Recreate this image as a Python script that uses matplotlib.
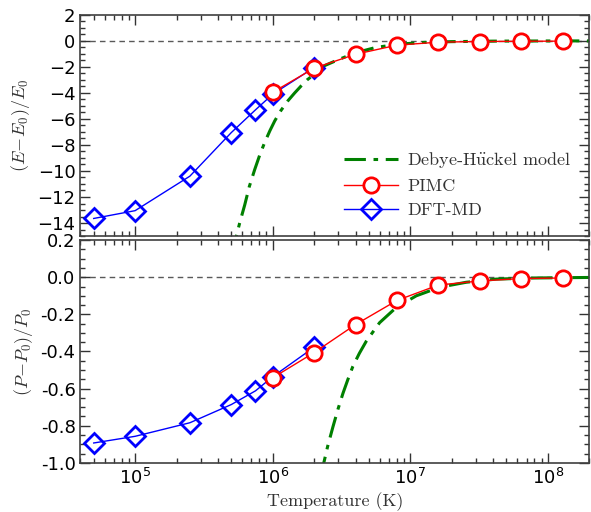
import numpy as np
import matplotlib
matplotlib.use("Agg")
import matplotlib.pyplot as plt
from matplotlib.ticker import MultipleLocator, LogLocator, NullFormatter

# ---- data ----
T_dft = [5e4, 1e5, 2.5e5, 5e5, 7.5e5, 1e6, 2e6]
E_dft = [-13.65, -13.05, -10.4, -7.05, -5.3, -4.1, -2.05]
P_dft = [-0.893, -0.857, -0.784, -0.686, -0.612, -0.536, -0.377]

T_pimc = [1e6, 2e6, 4e6, 8e6, 1.6e7, 3.2e7, 6.4e7, 1.28e8]
E_pimc = [-3.95, -2.1, -1.03, -0.33, -0.1, -0.05, -0.03, -0.02]
P_pimc = [-0.542, -0.406, -0.255, -0.125, -0.042, -0.02, -0.007, -0.004]

logT_dhE = [5.70, 5.736, 5.76, 5.797, 5.83, 5.869, 5.905, 5.942, 5.98, 6.015, 6.06,
            6.111, 6.16, 6.208, 6.25, 6.293, 6.378, 6.487, 6.607, 6.752, 6.92,
            7.1, 7.3, 7.6, 8.0, 8.31]
E_dh = [-16.5, -15.0, -14.0, -12.6, -11.2, -9.9, -8.8, -7.8, -6.9, -6.15, -5.35,
        -4.6, -4.0, -3.45, -3.0, -2.65, -1.9, -1.4, -0.9, -0.5, -0.25,
        -0.12, -0.06, -0.02, -0.007, -0.003]
logT_dhP = [6.35, 6.370, 6.40, 6.438, 6.475, 6.511, 6.547, 6.583, 6.63, 6.680, 6.777,
            6.898, 7.044, 7.213, 7.407, 7.625, 7.9, 8.31]
P_dh = [-1.08, -1.005, -0.91, -0.806, -0.71, -0.625, -0.55, -0.480, -0.41, -0.345, -0.245,
        -0.163, -0.100, -0.054, -0.027, -0.010, -0.004, -0.001]

T_dh_E = [10 ** v for v in logT_dhE]
T_dh_P = [10 ** v for v in logT_dhP]

plt.rcParams['mathtext.fontset'] = 'dejavusans'
plt.rcParams['xtick.direction'] = 'in'
plt.rcParams['ytick.direction'] = 'in'

fig = plt.figure(figsize=(5.91, 5.12), dpi=100)
ax1 = fig.add_axes([0.136, 0.539, 0.861, 0.432])
ax2 = fig.add_axes([0.136, 0.096, 0.861, 0.435])

cmr = ['cmr10', 'DejaVu Serif']
green = (0, 0.5, 0)

for ax, Td, Yd, Tp, Yp, Tdh, Ydh in [
        (ax1, T_dft, E_dft, T_pimc, E_pimc, T_dh_E, E_dh),
        (ax2, T_dft, P_dft, T_pimc, P_pimc, T_dh_P, P_dh)]:
    ax.axhline(0, color='0.35', lw=1, ls=(0, (4, 3)), zorder=1)
    ax.plot(Tdh, Ydh, color=green, lw=2.2, ls=(0, (7, 2.5, 1.5, 2.5)),
            label=r'Debye-H$\ddot{\mathrm{u}}$ckel model', zorder=2)
    ax.plot(Tp, Yp, color='red', lw=1, marker='o', ms=11, mfc='white',
            mec='red', mew=2, label='PIMC', zorder=4)
    ax.plot(Td, Yd, color='blue', lw=1, marker='D', ms=10, mfc='none',
            mec='blue', mew=2, label='DFT-MD', zorder=3)
    ax.set_xscale('log')
    ax.set_xlim(4e4, 2e8)
    ax.xaxis.set_major_locator(LogLocator(base=10, numticks=10))
    ax.xaxis.set_minor_locator(LogLocator(base=10, subs=np.arange(2, 10), numticks=20))
    ax.tick_params(which='major', length=7, width=1, top=True, right=True,
                   labelsize=13, color='0.2')
    ax.tick_params(which='minor', length=3.5, width=1, top=True, right=True, color='0.2')
    for s in ax.spines.values():
        s.set_linewidth(1.2)
        s.set_color('0.25')

ax1.set_ylim(-15, 2)
ax1.yaxis.set_major_locator(MultipleLocator(2))
ax1.yaxis.set_minor_locator(MultipleLocator(0.5))
ax1.xaxis.set_major_formatter(NullFormatter())
ax1.xaxis.set_minor_formatter(NullFormatter())

ax2.set_ylim(-1.0, 0.2)
ax2.yaxis.set_major_locator(MultipleLocator(0.2))
ax2.yaxis.set_minor_locator(MultipleLocator(0.05))
ax2.yaxis.set_major_formatter(matplotlib.ticker.FormatStrFormatter('%.1f'))

ax1.set_ylabel(r'$(E\!-\!E_0)/E_0$', fontsize=13, math_fontfamily='cm', color='0.2', labelpad=4)
ax2.set_ylabel(r'$(P\!-\!P_0)/P_0$', fontsize=13, math_fontfamily='cm', color='0.2', labelpad=4)
ax2.set_xlabel('Temperature (K)', fontsize=13, family=cmr, color='0.2', labelpad=3)

leg = ax1.legend(loc='lower right', frameon=False, prop={'family': cmr, 'size': 13},
                 handlelength=3.0, handletextpad=0.5, borderaxespad=0.6, labelspacing=0.45)
for t in leg.get_texts():
    t.set_color('0.2')
    t.set_math_fontfamily('cm')

fig.savefig('out.png', dpi=100)
